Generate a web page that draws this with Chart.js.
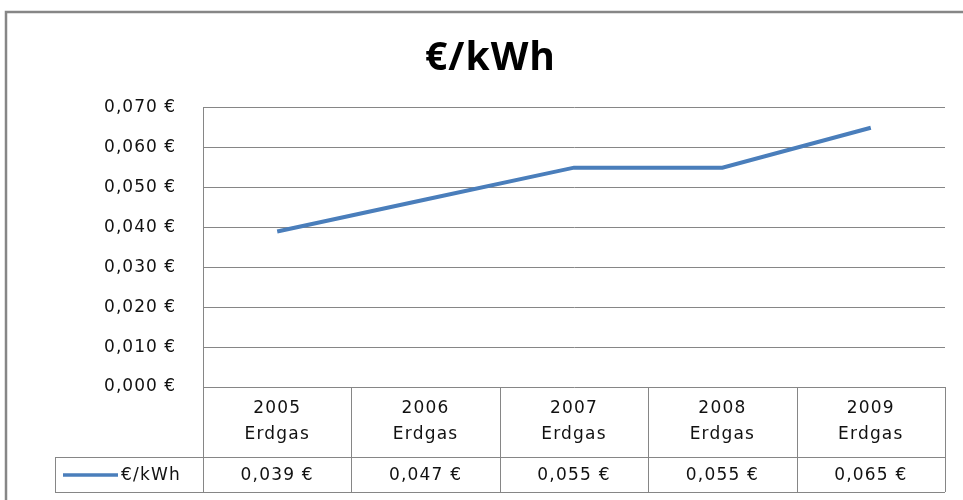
<!DOCTYPE html>
<html>
<head>
<meta charset="utf-8">
<script src="https://cdn.jsdelivr.net/npm/chart.js@4.4.1/dist/chart.umd.min.js"></script>
<style>
  html, body { margin: 0; padding: 0; background: #fff; }
  #wrap { width: 963px; height: 500px; position: relative; }
</style>
</head>
<body>
<div id="wrap"><canvas id="chart" width="963" height="500"></canvas></div>
<script>
// chart data
const years = ["2005", "2006", "2007", "2008", "2009"];
const fuel = ["Erdgas", "Erdgas", "Erdgas", "Erdgas", "Erdgas"];
const pricePerKwh = [0.039, 0.047, 0.055, 0.055, 0.065];
const seriesName = "€/kWh";
const yTicks = [0, 0.01, 0.02, 0.03, 0.04, 0.05, 0.06, 0.07];

const lineColor = "#4a7ebb";
const gridColor = "#868686";
const labelFont = "'DejaVu Sans', sans-serif";
const titleFont = "'Open Sans', 'DejaVu Sans', sans-serif";

const euro = (v) => v.toFixed(3).replace(".", ",") + " €";

// draws outer frame and the data table under the plot
const tablePlugin = {
  id: "dataTable",
  beforeDraw(chart) {
    const ctx = chart.ctx;
    // text in the original is wide, spread it a bit
    ctx.letterSpacing = "1px";
    ctx.save();
    ctx.strokeStyle = gridColor;
    ctx.lineWidth = 2.5;
    ctx.strokeRect(6, 12, 1000, 600);
    ctx.restore();
  },
  afterDraw(chart) {
    const ctx = chart.ctx;
    const x = chart.scales.x;
    const area = chart.chartArea;
    const colW = (area.right - area.left) / years.length;
    const headTop = area.bottom;
    const headBottom = headTop + 70;
    const rowBottom = headBottom + 35;
    const legendLeft = 55;

    ctx.save();
    ctx.strokeStyle = gridColor;
    ctx.lineWidth = 1;
    ctx.beginPath();
    // vertical lines
    for (let i = 0; i <= years.length; i++) {
      const lx = Math.round(area.left + i * colW) + 0.5;
      ctx.moveTo(lx, headTop);
      ctx.lineTo(lx, rowBottom);
    }
    ctx.moveTo(legendLeft + 0.5, headBottom);
    ctx.lineTo(legendLeft + 0.5, rowBottom);
    // horizontal lines
    ctx.moveTo(legendLeft, headBottom + 0.5);
    ctx.lineTo(area.right, headBottom + 0.5);
    ctx.moveTo(legendLeft, rowBottom + 0.5);
    ctx.lineTo(area.right, rowBottom + 0.5);
    ctx.stroke();

    ctx.fillStyle = "#111";
    ctx.font = "17px " + labelFont;
    ctx.letterSpacing = "1.2px";
    ctx.textAlign = "center";
    ctx.textBaseline = "middle";
    years.forEach((y, i) => {
      const cx = x.getPixelForValue(i);
      ctx.fillText(y, cx, headTop + 22);
      ctx.fillText(fuel[i], cx, headTop + 48);
      ctx.fillText(euro(pricePerKwh[i]), cx, headBottom + 19);
    });

    // legend key
    ctx.strokeStyle = lineColor;
    ctx.lineWidth = 3.5;
    ctx.beginPath();
    ctx.moveTo(63, headBottom + 18);
    ctx.lineTo(118, headBottom + 18);
    ctx.stroke();
    ctx.textAlign = "left";
    ctx.fillText(seriesName, 121, headBottom + 19);
    ctx.restore();
  }
};

new Chart(document.getElementById("chart"), {
  type: "line",
  data: {
    labels: years,
    datasets: [
      {
        label: seriesName,
        data: pricePerKwh,
        borderColor: lineColor,
        backgroundColor: lineColor,
        borderWidth: 4,
        pointRadius: 0,
        tension: 0,
      },
    ],
  },
  options: {
    responsive: false,
    animation: false,
    layout: { padding: { top: 0, right: 18, bottom: 113, left: 36 } },
    plugins: {
      legend: { display: false },
      tooltip: { enabled: false },
      title: {
        display: true,
        text: "€/kWh",
        color: "#000",
        font: { family: titleFont, size: 39, weight: "bold" },
        padding: { top: 35, bottom: 26 },
      },
    },
    scales: {
      x: { display: false, offset: true },
      y: {
        min: 0,
        max: 0.07,
        afterBuildTicks: (s) => { s.ticks = yTicks.map((v) => ({ value: v })); },
        afterFit: (s) => { s.width = 167; },
        grid: { color: gridColor, drawTicks: false },
        border: { color: gridColor },
        ticks: {
          padding: 27,
          color: "#111",
          font: { family: labelFont, size: 17 },
          callback: (v) => euro(v),
        },
      },
    },
  },
  plugins: [tablePlugin],
});
</script>
</body>
</html>
